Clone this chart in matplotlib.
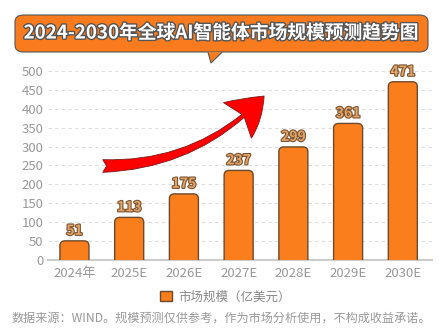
import numpy as np
import matplotlib
matplotlib.use('Agg')
import matplotlib.pyplot as plt
import matplotlib.patheffects as pe
from matplotlib.patches import FancyBboxPatch, FancyArrowPatch, Polygon

plt.rcParams['font.family'] = ['Noto Sans CJK SC', 'DejaVu Sans']

# data
years = ['2024年', '2025E', '2026E', '2027E', '2028E', '2029E', '2030E']
market_size = [51, 113, 175, 237, 299, 361, 471]
title = '2024-2030年全球AI智能体市场规模预测趋势图'
legend_label = '市场规模（亿美元）'
note = '数据来源：WIND。规模预测仅供参考，作为市场分析使用，不构成收益承诺。'

bar_color = '#FB7E1C'
edge_color = '#6b4a2e'

fig = plt.figure(figsize=(4.42, 3.34), dpi=100)
ax = fig.add_axes([0.109, 0.221, 0.868, 0.592])

x = np.arange(len(years))
bars = ax.bar(x, market_size, width=0.53, color='none', edgecolor='none')

# rounded-top bars
for b in bars:
    p = FancyBboxPatch((b.get_x() + 0.09, -30), b.get_width() - 0.18, b.get_height() + 30 - 0.09 * 144,
                       boxstyle='round,pad=0.09,rounding_size=0.09', mutation_aspect=144,
                       facecolor=bar_color, edgecolor=edge_color, linewidth=1.0, zorder=3)
    p.set_clip_path(ax.patch)
    ax.add_patch(p)

for xi, v in zip(x, market_size):
    ax.text(xi, v + 8, str(v), ha='center', va='bottom', fontsize=10, fontweight='bold',
            color='#E4A468', zorder=4,
            path_effects=[pe.withStroke(linewidth=1.6, foreground='#7a5532')])

ax.set_xlim(-0.48, 6.53)
ax.set_ylim(0, 522)
ax.set_yticks(np.arange(0, 501, 50))
ax.set_xticks(x)
ax.set_xticklabels(years)
ax.tick_params(axis='both', length=0, colors='#999999', labelsize=9.5)
ax.tick_params(axis='x', pad=5)
ax.yaxis.grid(True, linestyle=(0, (3, 3)), color='#dcdcdc', linewidth=0.8)
ax.set_axisbelow(True)
for s in ['top', 'right', 'left']:
    ax.spines[s].set_visible(False)
ax.spines['bottom'].set_color('#cccccc')
ax.spines['bottom'].set_linewidth(1.5)

# curved red arrow
arrow = FancyArrowPatch((100 / 442, 1 - 166 / 334), (266 / 442, 1 - 94 / 334),
                        transform=fig.transFigure,
                        connectionstyle='arc3,rad=0.22',
                        arrowstyle='fancy,head_length=1.0,head_width=1.25,tail_width=0.35',
                        mutation_scale=26, facecolor='#ff0000', edgecolor='#7a1a1a',
                        linewidth=0.6, zorder=5)
fig.patches.append(arrow)

# title bubble
box = FancyBboxPatch((15 / 442, 1 - 52 / 334), 413 / 442, 37 / 334,
                     boxstyle='round,pad=0,rounding_size=0.02', transform=fig.transFigure,
                     facecolor='#F97B1E', edgecolor='#555555', linewidth=0.8, zorder=1)
fig.patches.append(box)
tail = Polygon([(208 / 442, 1 - 52.3 / 334), (211 / 442, 1 - 63 / 334), (222 / 442, 1 - 52.3 / 334)],
               closed=False, transform=fig.transFigure, facecolor='#F97B1E',
               edgecolor='#555555', linewidth=0.8, zorder=1)
fig.patches.append(tail)
fig.text(0.5, 1 - 33 / 334, title, ha='center', va='center', fontsize=13.5, fontweight='bold',
         color='white', path_effects=[pe.withStroke(linewidth=2, foreground='#555555')])

# legend
leg = ax.legend([plt.Rectangle((0, 0), 1, 1, facecolor=bar_color, edgecolor=edge_color)],
                [legend_label], loc='center', bbox_to_anchor=(0.51, 1 - 297 / 334),
                bbox_transform=fig.transFigure, frameon=False, fontsize=9,
                handlelength=0.9, handleheight=0.9, handletextpad=0.5)
for t in leg.get_texts():
    t.set_color('#888888')

fig.text(0.5, 1 - 318 / 334, note, ha='center', va='center', fontsize=8.7, color='#999999')

fig.savefig('out.png', dpi=100)
